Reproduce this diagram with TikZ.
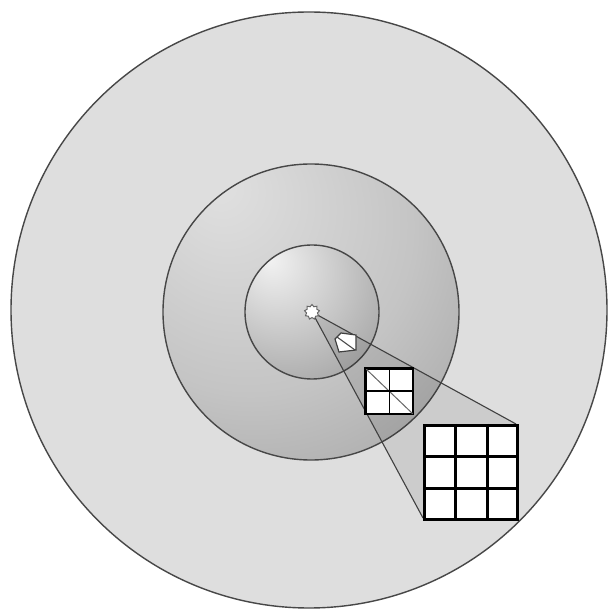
\documentclass[tikz,border=0pt]{standalone}
\usetikzlibrary{shapes.geometric,calc}
\pgfdeclareradialshading{innerball}{\pgfpoint{-16bp}{20bp}}{color(0bp)=(white!95!black); color(18bp)=(white!82!black); color(40bp)=(white!66!black); color(80bp)=(white!50!black)}
\pgfdeclareradialshading{midball}{\pgfpoint{-16bp}{22bp}}{color(0bp)=(white!88!black); color(28bp)=(white!77!black); color(50bp)=(white!63!black); color(80bp)=(white!50!black)}
\tikzset{
  ring/.style={draw=black!72, line width=1.4pt},
  cone/.style={draw=black!75, line width=1.1pt},
  bigcell/.style={draw=black, line width=3pt, fill=white},
  midcell/.style={draw=black, line width=1.6pt, fill=white},
}
\begin{document}
\begin{tikzpicture}[x=1pt,y=-1pt]
\useasboundingbox (0,0) rectangle (611,609);
\fill[white] (0,0) rectangle (611,609);
% outer disc
\filldraw[fill=white!87!black, ring] (309,310) circle (298);
% middle disc
\shade[shading=midball] (311,312) circle (148);
\draw[ring] (311,312) circle (148);
% inner disc
\shade[shading=innerball] (312,312) circle (67);
\draw[ring] (312,312) circle (67);
% named parts
\coordinate (c) at (312,312);
\coordinate (bigNE) at (516,424);
\coordinate (bigSW) at (423,518);
% cone shading
\fill[black, opacity=0.08] (c) -- (bigNE) -- (bigSW) -- cycle;
% cone lines
\draw[cone] (c) -- (bigNE);
\draw[cone] (c) -- (bigSW);
% small tile
\filldraw[fill=white, draw=black!75, line width=1.2pt] (341,333) -- (356,335) -- (356,350) -- (339,352) -- (335,339) -- cycle;
\draw[black!70, line width=1.1pt] (337,337) -- (355,350);
% medium grid
\node[midcell, minimum width=47pt, minimum height=45pt, inner sep=0pt, anchor=north west] (mid) at (365,368) {};
\draw[black!60, line width=1pt] (mid.north west) -- (mid.south east);
\draw[black, line width=1.6pt] (mid.north) -- (mid.south) (mid.west) -- (mid.east);
\draw[black, line width=1.6pt] (mid.north west) rectangle (mid.south east);
% big grid
\node[bigcell, minimum width=93pt, minimum height=94pt, inner sep=0pt, anchor=north west] (big) at (423,424) {};
\draw[black, line width=3pt]
  ($(big.north west)!1/3!(big.north east)$) -- ($(big.south west)!1/3!(big.south east)$)
  ($(big.north west)!2/3!(big.north east)$) -- ($(big.south west)!2/3!(big.south east)$)
  ($(big.north west)!1/3!(big.south west)$) -- ($(big.north east)!1/3!(big.south east)$)
  ($(big.north west)!2/3!(big.south west)$) -- ($(big.north east)!2/3!(big.south east)$);
% core
\node[star, star points=9, star point ratio=1.35, minimum size=15pt, inner sep=0pt, fill=white, draw=black!60, line width=1pt] (core) at (c) {};
\end{tikzpicture}
\end{document}
